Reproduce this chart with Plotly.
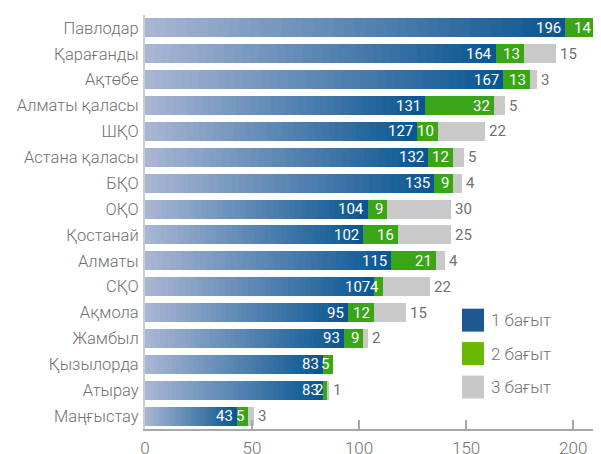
import plotly.graph_objects as go

# --------------------------------------------------------
# Data
regions = ["Павлодар", "Қарағанды", "Ақтөбе", "Алматы қаласы", "ШҚО", "Астана қаласы",
           "БҚО", "ОҚО", "Қостанай", "Алматы", "СҚО", "Ақмола", "Жамбыл",
           "Қызылорда", "Атырау", "Маңғыстау"]
dir1 = [196, 164, 167, 131, 127, 132, 135, 104, 102, 115, 107, 95, 93, 83, 83, 43]
dir2 = [14, 13, 13, 32, 10, 12, 9, 9, 16, 21, 4, 12, 9, 5, 2, 5]
dir3 = [3, 15, 3, 5, 22, 5, 4, 30, 25, 4, 22, 15, 2, 0, 1, 3]
legend_names = ["1 бағыт", "2 бағыт", "3 бағыт"]
x_ticks = [0, 50, 100, 150, 200]

FONT = "Roboto, sans-serif"
GREY_TXT = "#707070"
GREEN = "#3ba518"
GREY_BAR = "#c9c9c9"
LEGEND_COLORS = ["#1e5891", "#6ab800", "#c8c8c8"]

# the page body adds an 8px margin, so the figure is drawn 8px smaller
W, H = 593, 446
L, T, B = 137, 7, 24.5
PW, PH = W - L, H - T - B

# gradient: light at the axis, dark at the end of each blue bar
N_STEPS = 40
c_light = (168, 181, 211)
c_dark = (10, 86, 146)

fig = go.Figure()

for i in range(N_STEPS):
    t = i / (N_STEPS - 1)
    col = tuple(round(a + (b - a) * t) for a, b in zip(c_light, c_dark))
    fig.add_trace(go.Bar(
        y=regions, x=[v / N_STEPS for v in dir1], orientation="h",
        marker=dict(color=f"rgb{col}", line=dict(width=0)),
        hoverinfo="skip", showlegend=False,
    ))

fig.add_trace(go.Bar(y=regions, x=dir2, orientation="h",
                     marker=dict(color=GREEN, line=dict(width=0)),
                     hoverinfo="skip", showlegend=False))
fig.add_trace(go.Bar(y=regions, x=dir3, orientation="h",
                     marker=dict(color=GREY_BAR, line=dict(width=0)),
                     hoverinfo="skip", showlegend=False))

# --------------------------------------------------------
# value labels (annotations on data coordinates)
ends2 = [a + b for a, b in zip(dir1, dir2)]
ends3 = [a + b + c for a, b, c in zip(dir1, dir2, dir3)]
XMAX = 213

annotations = []
for reg, v1, v2, v3, e2, e3 in zip(regions, dir1, dir2, dir3, ends2, ends3):
    annotations.append(dict(x=v1, y=reg, text=str(v1), xanchor="right", xshift=-2,
                            showarrow=False, font=dict(family=FONT, size=15, color="white")))
    annotations.append(dict(x=e2, y=reg, text=str(v2), xanchor="right", xshift=-2,
                            showarrow=False, font=dict(family=FONT, size=15, color="white")))
    if v3 and e3 < XMAX:
        annotations.append(dict(x=e3, y=reg, text=str(v3), xanchor="left", xshift=2,
                                showarrow=False, font=dict(family=FONT, size=15, color=GREY_TXT)))

# legend drawn by hand (square swatches), positions in screen pixels
shapes = []
for k, (name, col) in enumerate(zip(legend_names, LEGEND_COLORS)):
    y0 = 309 + k * 33.5 - 8
    shapes.append(dict(type="rect", xref="paper", yref="paper",
                       x0=(462 - 8 - L) / PW, x1=(484 - 8 - L) / PW,
                       y0=1 - (y0 + 23 - T) / PH, y1=1 - (y0 - T) / PH,
                       fillcolor=col, line=dict(width=0)))
    annotations.append(dict(text=name, xref="paper", yref="paper",
                            x=(489 - 8 - L) / PW, y=1 - (y0 + 11.5 - T) / PH,
                            xanchor="left", yanchor="middle", showarrow=False,
                            font=dict(family=FONT, size=17, color=GREY_TXT, weight=300)))

fig.update_layout(
    width=W, height=H,
    barmode="stack", bargap=0.27,
    plot_bgcolor="white", paper_bgcolor="white",
    margin=dict(l=L, r=0, t=T, b=B, autoexpand=False),
    shapes=shapes, annotations=annotations,
    xaxis=dict(range=[0, XMAX], tickvals=x_ticks, showgrid=False, zeroline=False,
               showline=True, linecolor="#a8a8a8", linewidth=1.5, automargin=False,
               ticks="inside", ticklen=9, tickcolor="#a8a8a8", tickwidth=1.5,
               ticklabelstandoff=3,
               tickfont=dict(family=FONT, size=17, color=GREY_TXT, weight=300)),
    yaxis=dict(range=[15.5, -0.5], showgrid=False, zeroline=False, automargin=False,
               showline=True, linecolor="#cccccc", linewidth=2,
               ticks="", ticklabelstandoff=1,
               tickfont=dict(family=FONT, size=16.5, color=GREY_TXT, weight=300)),
)

fig.write_html("out.html")
